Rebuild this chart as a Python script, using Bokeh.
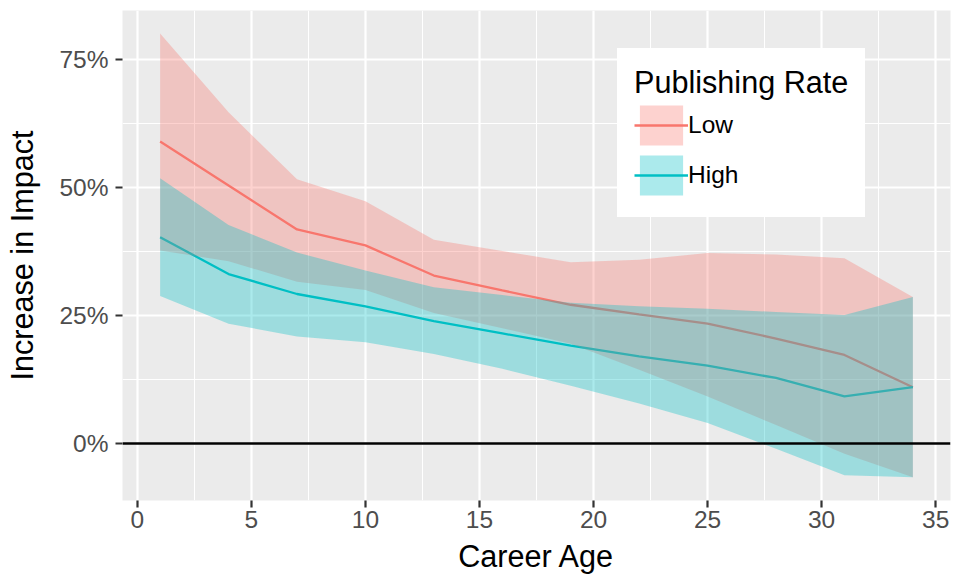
from bokeh.plotting import figure
from bokeh.models import (ColumnDataSource, FixedTicker, NumeralTickFormatter,
                          Range1d, Span, Legend, LegendItem)
from bokeh.embed import file_html
from bokeh.resources import INLINE

# ---- data (percent) ----
career_age = [1, 4, 7, 10, 13, 16, 19, 22, 25, 28, 31, 34]

low_mean = [59.0, 50.4, 41.8, 38.7, 32.8, 29.9, 27.1, 25.2, 23.4, 20.5, 17.3, 11.0]
low_upper = [80.1, 64.7, 51.6, 47.3, 39.8, 37.6, 35.4, 35.9, 37.2, 36.9, 36.2, 28.6]
low_lower = [37.7, 35.6, 31.6, 30.0, 25.5, 22.5, 19.5, 14.4, 9.2, 3.6, -2.0, -6.6]

high_mean = [40.3, 33.1, 29.2, 26.8, 23.9, 21.5, 19.1, 17.0, 15.2, 12.8, 9.2, 11.0]
high_upper = [51.8, 42.7, 37.3, 33.8, 30.5, 29.0, 27.5, 26.8, 26.3, 25.7, 25.1, 28.6]
high_lower = [28.8, 23.4, 20.9, 19.8, 17.5, 14.6, 11.3, 7.8, 4.0, -1.0, -6.2, -6.6]

group_labels = ["Low", "High"]
group_colors = ["#F8766D", "#00BFC4"]

x_ticks = [0, 5, 10, 15, 20, 25, 30, 35]
x_minor_ticks = [2.5, 7.5, 12.5, 17.5, 22.5, 27.5, 32.5]
y_ticks = [0.0, 0.25, 0.5, 0.75]
y_minor_ticks = [0.125, 0.375, 0.625]

FONT = "Liberation Sans"


def frac(vals):
    return [v / 100.0 for v in vals]


src_low = ColumnDataSource(dict(x=career_age, y=frac(low_mean),
                                lo=frac(low_lower), hi=frac(low_upper)))
src_high = ColumnDataSource(dict(x=career_age, y=frac(high_mean),
                                 lo=frac(high_lower), hi=frac(high_upper)))

p = figure(width=953, height=580, output_backend="svg", toolbar_location=None,
           x_range=Range1d(-0.65, 35.65), y_range=Range1d(-0.1113, 0.8457),
           min_border_left=122, min_border_right=3, min_border_top=10,
           min_border_bottom=80,
           background_fill_color="#EBEBEB", border_fill_color="white",
           outline_line_color=None)

# lines first, then ribbons drawn over them (as in the reference)
line_low = p.line("x", "y", source=src_low, line_color=group_colors[0], line_width=2.3)
line_high = p.line("x", "y", source=src_high, line_color=group_colors[1], line_width=2.3)
band_low = p.varea(x="x", y1="lo", y2="hi", source=src_low,
                   fill_color=group_colors[0], fill_alpha=0.33)
band_high = p.varea(x="x", y1="lo", y2="hi", source=src_high,
                    fill_color=group_colors[1], fill_alpha=0.33)

p.add_layout(Span(location=0, dimension="width", line_color="black", line_width=2.3))

# axes
p.xaxis.ticker = FixedTicker(ticks=x_ticks, minor_ticks=x_minor_ticks)
p.yaxis.ticker = FixedTicker(ticks=y_ticks, minor_ticks=y_minor_ticks)
p.yaxis.formatter = NumeralTickFormatter(format="0%")
p.xaxis.axis_label = "Career Age"
p.yaxis.axis_label = "Increase in Impact"

for ax in (p.xaxis, p.yaxis):
    ax.axis_line_color = None
    ax.major_tick_line_color = "#333333"
    ax.major_tick_line_width = 2.2
    ax.major_tick_out = 7
    ax.major_tick_in = 0
    ax.minor_tick_line_color = None
    ax.major_label_text_color = "#4D4D4D"
    ax.major_label_text_font = FONT
    ax.major_label_text_font_size = "24.5px"
    ax.axis_label_text_font = FONT
    ax.axis_label_text_font_size = "30.6px"
    ax.axis_label_text_font_style = "normal"
    ax.axis_label_text_color = "black"

p.yaxis.major_label_standoff = 7
p.xaxis.major_label_standoff = 3
p.yaxis.axis_label_standoff = 17
p.xaxis.axis_label_standoff = 8

for g in (p.xgrid, p.ygrid):
    g.grid_line_color = "white"
    g.grid_line_width = 2.2
    g.minor_grid_line_color = "white"
    g.minor_grid_line_width = 1.1

legend = Legend(
    items=[LegendItem(label=group_labels[0], renderers=[band_low, line_low]),
           LegendItem(label=group_labels[1], renderers=[band_high, line_high])],
    location=(495, 283), title="Publishing Rate",
    title_text_font=FONT, title_text_font_size="30.6px",
    title_text_font_style="normal", title_text_color="black",
    label_text_font=FONT, label_text_font_size="24.5px", label_text_color="black",
    glyph_width=54, glyph_height=50, spacing=0, padding=0, label_standoff=0,
    title_standoff=0, margin=0,
    border_line_color="white", border_line_width=17, border_line_alpha=1.0,
    background_fill_color="white", background_fill_alpha=1.0,
)
p.add_layout(legend)

open("out.html", "w").write(file_html(p, INLINE))
